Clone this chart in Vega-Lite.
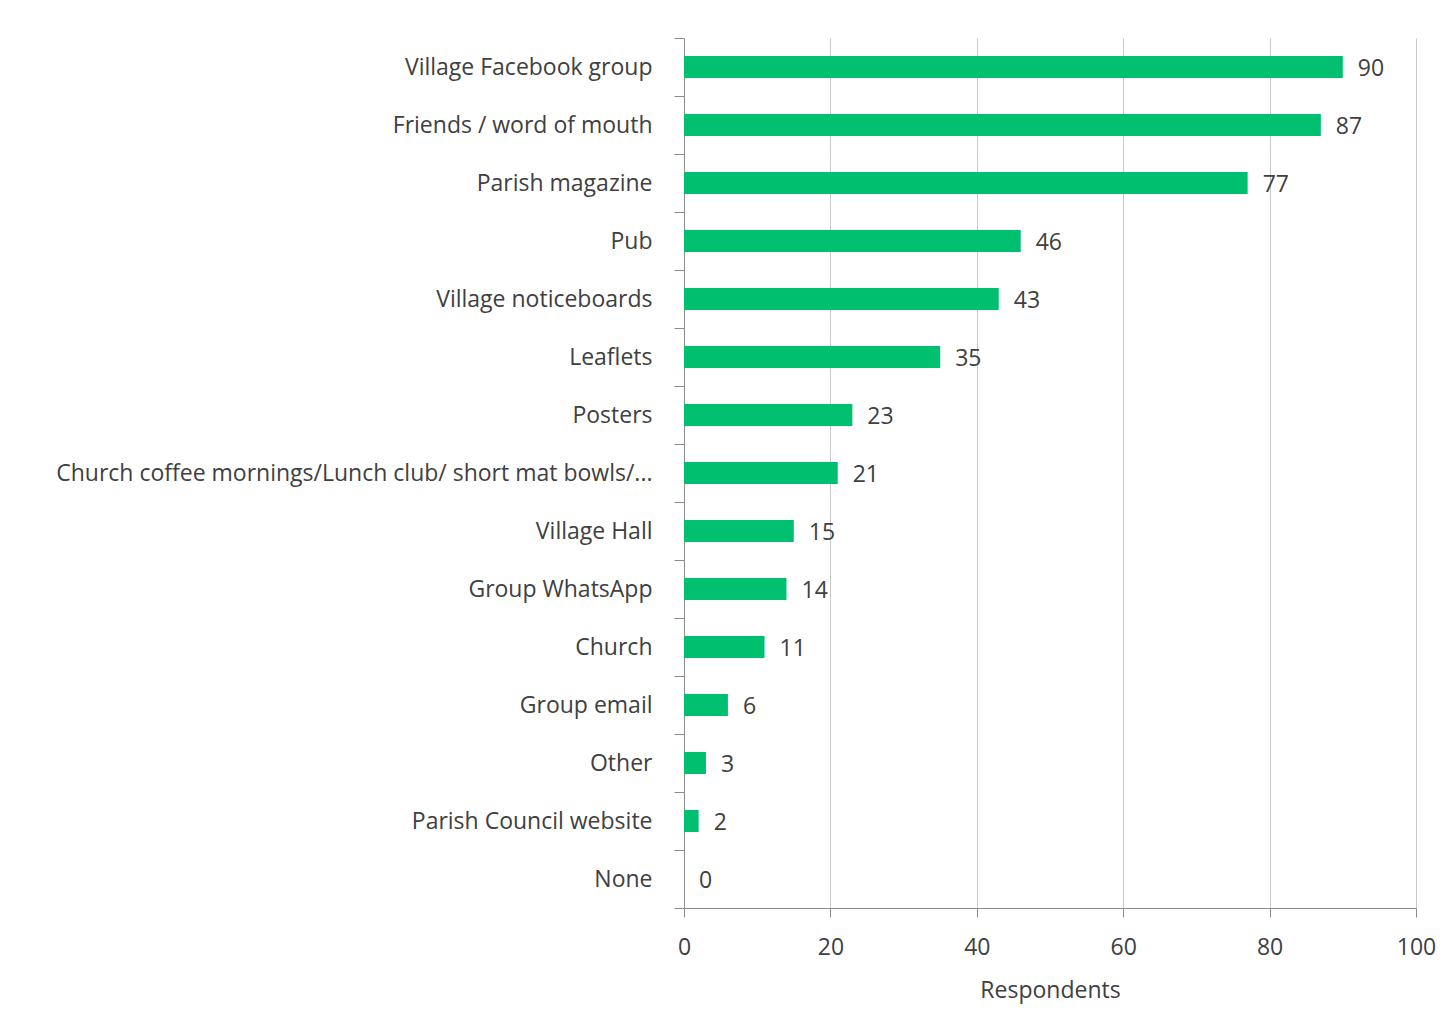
{
  "$schema": "https://vega.github.io/schema/vega-lite/v6.json",
  "width": 732,
  "height": 870,
  "autosize": {"type": "none"},
  "padding": {"left": 684, "top": 38, "right": 35, "bottom": 128},
  "background": "white",
  "config": {
    "view": {"stroke": null},
    "font": "Open Sans",
    "text": {"font": "Open Sans"}
  },
  "data": {
    "values": [
      {"source": "Village Facebook group", "respondents": 90},
      {"source": "Friends / word of mouth", "respondents": 87},
      {"source": "Parish magazine", "respondents": 77},
      {"source": "Pub", "respondents": 46},
      {"source": "Village noticeboards", "respondents": 43},
      {"source": "Leaflets", "respondents": 35},
      {"source": "Posters", "respondents": 23},
      {"source": "Church coffee mornings/Lunch club/ short mat bowls/...", "respondents": 21},
      {"source": "Village Hall", "respondents": 15},
      {"source": "Group WhatsApp", "respondents": 14},
      {"source": "Church", "respondents": 11},
      {"source": "Group email", "respondents": 6},
      {"source": "Other", "respondents": 3},
      {"source": "Parish Council website", "respondents": 2},
      {"source": "None", "respondents": 0}
    ]
  },
  "encoding": {
    "y": {
      "field": "source",
      "type": "nominal",
      "sort": null,
      "scale": {"paddingInner": 0, "paddingOuter": 0},
      "axis": {
        "title": null,
        "tickBand": "extent",
        "tickSize": 10,
        "tickColor": "#8c8c8c",
        "domainColor": "#8c8c8c",
        "labelFont": "Open Sans",
        "labelFontSize": 23,
        "labelColor": "#404040",
        "labelPadding": 22,
        "labelLimit": 700
      }
    },
    "x": {
      "field": "respondents",
      "type": "quantitative",
      "scale": {"domain": [0, 100], "nice": false},
      "axis": {
        "title": "Respondents",
        "values": [0, 20, 40, 60, 80, 100],
        "labelFlush": false,
        "tickSize": 9,
        "tickColor": "#8c8c8c",
        "domainColor": "#8c8c8c",
        "gridColor": "#c8c8c8",
        "labelFont": "Open Sans",
        "labelFontSize": 23,
        "labelColor": "#404040",
        "labelPadding": 19,
        "titleFont": "Open Sans",
        "titleFontSize": 23,
        "titleFontWeight": "normal",
        "titleColor": "#404040",
        "titlePadding": 20
      }
    }
  },
  "layer": [
    {"mark": {"type": "bar", "color": "#00C070", "height": {"band": 0.38}}},
    {
      "mark": {"type": "text", "align": "left", "baseline": "middle", "dx": 15, "dy": 2, "fontSize": 23, "color": "#404040", "font": "Open Sans"},
      "encoding": {"text": {"field": "respondents", "type": "quantitative"}}
    }
  ]
}
